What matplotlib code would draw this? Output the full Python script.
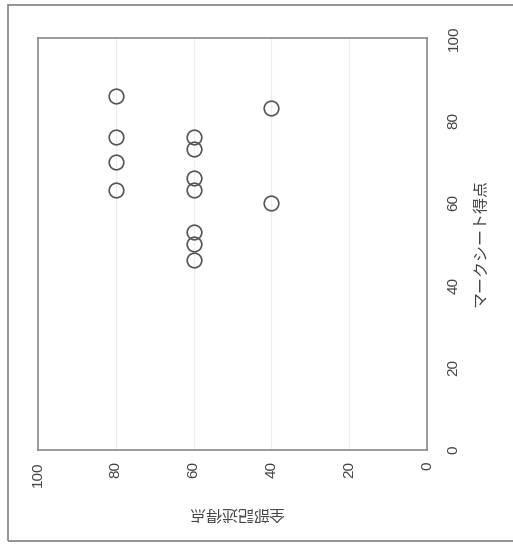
import numpy as np
import matplotlib.pyplot as plt
from matplotlib.patches import Rectangle

plt.rcParams['font.family'] = ['Noto Sans CJK JP', 'DejaVu Sans']

# 全部記述得点 (horizontal, reversed) / マークシート得点 (vertical)
kijutsu = [80, 80, 80, 80, 60, 60, 60, 60, 60, 60, 60, 40, 40]
mark = [86, 76, 70, 63, 76, 73, 66, 63, 53, 50, 46, 83, 60]
ticks = [0, 20, 40, 60, 80, 100]
xlabel = "全部記述得点"
ylabel = "マークシート得点"

W, H = 513, 544
fig = plt.figure(figsize=(W / 100, H / 100), dpi=100)

# outer frame of the scanned page
fig.patches.append(Rectangle((8 / W, 1 - 541 / H), 1.2, (541 - 5) / H,
                             transform=fig.transFigure, fill=False,
                             edgecolor='#8a8a8a', linewidth=1.3))

ax = fig.add_axes([38 / W, 1 - 450 / H, (427 - 38) / W, (450 - 38) / H])
ax.plot(kijutsu, mark, 'o', ms=10.5, mfc='none', mec='#555555', mew=1.2)

ax.set_xlim(100, 0)
ax.set_ylim(0, 100)
ax.set_xticks(ticks)
ax.set_yticks(ticks)
ax.xaxis.grid(True, color='#ececec', linewidth=0.8)
ax.set_axisbelow(True)

ax.yaxis.tick_right()
ax.tick_params(axis='both', length=0, labelsize=11, labelcolor='#444444')
ax.tick_params(axis='x', pad=8)
ax.tick_params(axis='y', pad=14)
for t in ax.get_xticklabels() + ax.get_yticklabels():
    t.set_family(['Liberation Sans', 'DejaVu Sans'])
    t.set_rotation(90)
for t in ax.get_xticklabels():
    t.set_va('top')
    t.set_ha('center')
for t in ax.get_yticklabels():
    t.set_va('center')
    t.set_ha('left')

for s in ax.spines.values():
    s.set_color('#8a8a8a')
    s.set_linewidth(1.2)

fig.text(236 / W, 1 - 513 / H, xlabel, rotation=180, ha='center', va='center',
         fontsize=11.5, color='#444444')
fig.text(481 / W, 1 - 243 / H, ylabel, rotation=90, ha='center', va='center',
         fontsize=11.5, color='#444444')

fig.savefig('out.png', dpi=100, facecolor='white')
